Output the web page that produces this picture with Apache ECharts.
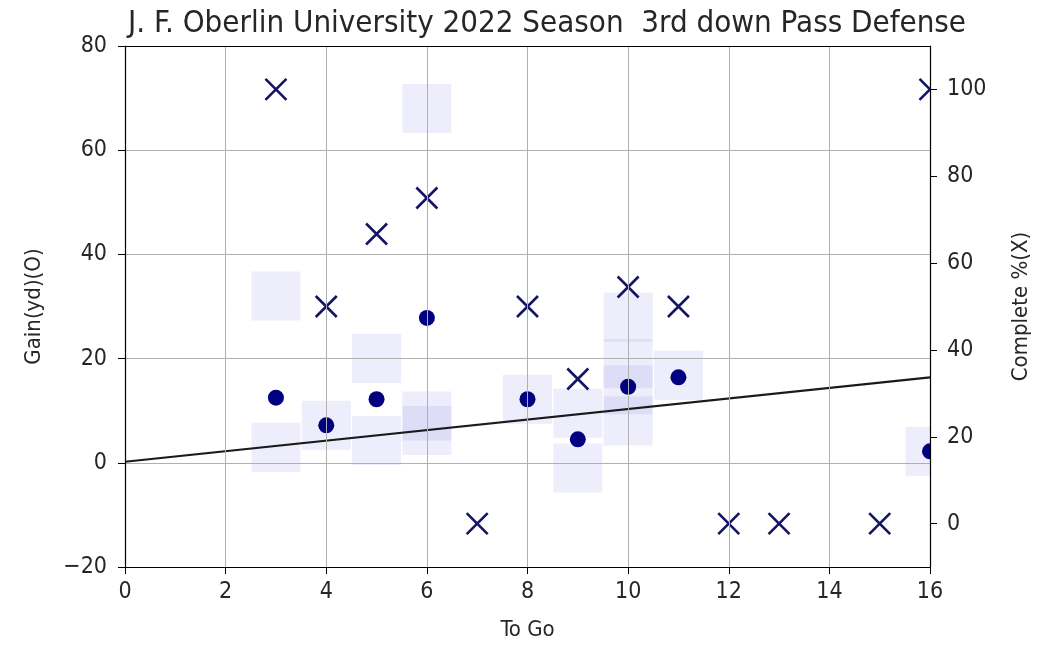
<!DOCTYPE html>
<html><head><meta charset="utf-8">
<script src="https://cdn.jsdelivr.net/npm/echarts@6/dist/echarts.min.js"></script>
<style>html,body{margin:0;padding:0;background:#fff}#c{width:1040px;height:646px}</style>
</head><body><div id="c"></div>
<script>
// average gain per "to go" distance (circles)
const gainX = [3, 4, 5, 6, 8, 9, 10, 11, 16];
const gainAvg = [12.5, 7.2, 12.2, 27.8, 12.2, 4.5, 14.6, 16.4, 2.2];
// completion % per "to go" distance (X markers)
const pctX = [3, 4, 5, 6, 7, 8, 9, 10, 11, 12, 13, 15, 16];
const pctVal = [100, 50, 66.7, 75, 0, 50, 33.3, 54.5, 50, 0, 0, 0, 100];
// individual play gains (translucent squares)
const playX = [3, 3, 4, 5, 5, 6, 6, 6, 8, 9, 9, 10, 10, 10, 10, 11, 16];
const playGain = [32, 3, 7.2, 20, 4.3, 68, 9, 6.2, 12.2, 9.5, -1, 28, 19, 14, 8, 16.8, 2.2];
// regression line end points
const fitX = [0, 16];
const fitY = [0.2, 16.4];
const xTicks = [0, 2, 4, 6, 8, 10, 12, 14, 16];
const rightTicks = [0, 20, 40, 60, 80, 100];

const FONT = '"DejaVu Sans Condensed", "DejaVu Sans", sans-serif';
const navy = '#000080';
const chart = echarts.init(document.getElementById('c'));
const zip = (a, b) => a.map((v, i) => [v, b[i]]);
const fmt = v => String(v).replace('-', '\u2212');
const tickFont = {fontFamily: FONT, fontSize: 23, color: '#262626', formatter: fmt};
const nameFont = {fontFamily: FONT, fontSize: 22, color: '#262626'};
const spine = {show: true, onZero: false, lineStyle: {color: '#000', width: 1.2}};
chart.setOption({
  animation: false,
  title: {text: 'J. F. Oberlin University 2022 Season  3rd down Pass Defense',
    left: 542, top: 3, textAlign: 'center',
    textStyle: {fontFamily: FONT, fontSize: 31, fontWeight: 'normal', color: '#262626'}},
  grid: {left: 125, right: 110, top: 46, bottom: 77},
  xAxis: [
    {type: 'value', min: 0, max: 16, interval: 2, z: 10, position: 'bottom',
      name: 'To Go', nameLocation: 'middle', nameGap: 52,
      nameTextStyle: nameFont,
      axisLine: spine,
      axisTick: {show: true, inside: false, length: 7, lineStyle: {color: '#000'}},
      axisLabel: Object.assign({margin: 14, customValues: xTicks}, tickFont),
      splitLine: {show: true, showMaxLine: false, showMinLine: false, lineStyle: {color: '#b0b0b0', width: 1}}},
    {type: 'value', min: 0, max: 16, position: 'top', z: 10,
      axisLine: spine,
      axisTick: {show: false}, axisLabel: {show: false}, splitLine: {show: false}}
  ],
  yAxis: [
    {type: 'value', min: -20, max: 80, interval: 20, position: 'left', z: 10,
      name: 'Gain(yd)(O)', nameLocation: 'middle', nameGap: 80, nameRotate: 90,
      nameTextStyle: nameFont,
      axisLine: spine,
      axisTick: {show: true, inside: false, length: 7, lineStyle: {color: '#000'}},
      axisLabel: Object.assign({margin: 18}, tickFont),
      splitLine: {show: true, showMaxLine: false, showMinLine: false, lineStyle: {color: '#b0b0b0', width: 1}}},
    {type: 'value', min: -10, max: 110, position: 'right', z: 10,
      name: 'Complete %(X)', nameLocation: 'middle', nameGap: 80, nameRotate: 90,
      nameTextStyle: nameFont,
      axisLine: spine,
      axisTick: {show: true, inside: false, length: 7, customValues: rightTicks, lineStyle: {color: '#000'}},
      axisLabel: Object.assign({margin: 17, customValues: rightTicks}, tickFont),
      splitLine: {show: false}}
  ],
  graphic: [{type: 'rect', z: 5, silent: true,
    shape: {x: 931, y: 30, width: 109, height: 560}, style: {fill: '#fff'}}],
  series: [
    {type: 'scatter', yAxisIndex: 0, data: zip(playX, playGain), symbol: 'rect', symbolSize: 49,
      itemStyle: {color: 'rgba(60,60,210,0.09)', opacity: 1}, z: 2, clip: false},
    {type: 'line', yAxisIndex: 0, data: zip(fitX, fitY), showSymbol: false, symbol: 'none',
      lineStyle: {color: '#1a1a1a', width: 2.2}, z: 3},
    {type: 'scatter', yAxisIndex: 0, data: zip(gainX, gainAvg), symbol: 'circle', symbolSize: 16,
      itemStyle: {color: navy, opacity: 1}, z: 4, clip: false},
    {type: 'scatter', yAxisIndex: 1, data: zip(pctX, pctVal),
      symbol: 'path://M0,0L10,10M10,0L0,10', symbolSize: 21,
      itemStyle: {color: 'none', borderColor: '#141464', borderWidth: 2.6, opacity: 1}, z: 4, clip: false}
  ]
});
</script></body></html>
